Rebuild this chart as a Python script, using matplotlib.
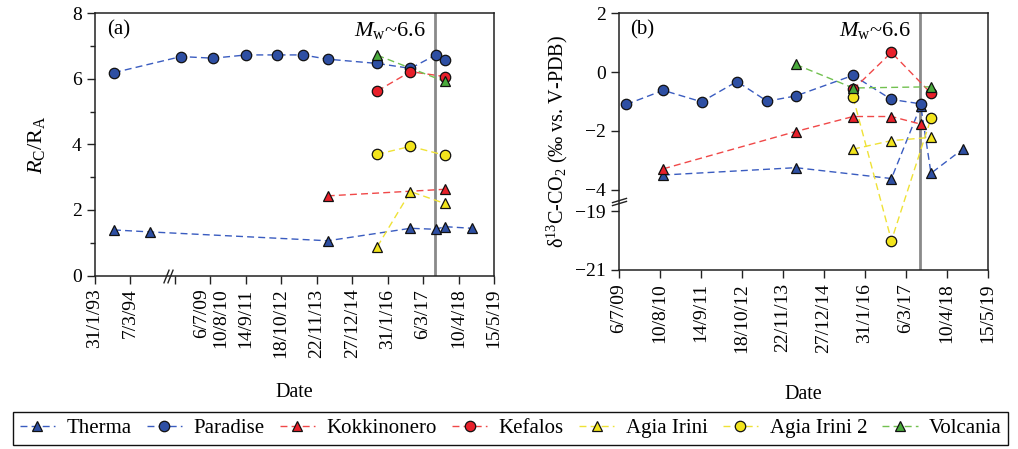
import numpy as np
import pandas as pd
import matplotlib
matplotlib.use('Agg')
import matplotlib.pyplot as plt
import matplotlib.dates as mdates
from matplotlib.ticker import FixedLocator, MultipleLocator
from matplotlib.transforms import ScaledTranslation
from matplotlib.lines import Line2D

plt.rcParams['font.family'] = ['Liberation Serif', 'DejaVu Serif']
plt.rcParams['mathtext.fontset'] = 'custom'
plt.rcParams['mathtext.rm'] = 'Liberation Serif'
plt.rcParams['mathtext.it'] = 'Liberation Serif:italic'

# ---- panel (a): Rc/Ra ----
therma_a_t = ['1993-09-02', '1994-10-12', '2014-03-27', '2016-10-15', '2017-07-28', '2017-11-05', '2018-09-10']
therma_a = [1.39, 1.33, 1.06, 1.44, 1.41, 1.49, 1.44]
paradise_a_t = ['1993-09-02', '2009-09-15', '2010-09-10', '2011-09-20', '2012-08-30', '2013-06-20',
                '2014-03-27', '2015-10-07', '2016-10-15', '2017-07-28', '2017-11-05']
paradise_a = [6.19, 6.68, 6.63, 6.73, 6.73, 6.73, 6.60, 6.47, 6.32, 6.73, 6.56]
kokkin_a_t = ['2014-03-27', '2017-11-05']
kokkin_a = [2.43, 2.63]
kefalos_a_t = ['2015-10-07', '2016-10-15', '2017-11-05']
kefalos_a = [5.63, 6.22, 6.07]
agia_a_t = ['2015-10-07', '2016-10-15', '2017-11-05']
agia_a = [0.88, 2.56, 2.20]
agia2_a_t = ['2015-10-07', '2016-10-15', '2017-11-05']
agia2_a = [3.70, 3.94, 3.67]
volc_a_t = ['2015-10-07', '2017-11-05']
volc_a = [6.72, 5.92]

# ---- panel (b): d13C-CO2 ----
therma_b_t = ['2010-09-10', '2014-03-27', '2016-10-15', '2017-07-28', '2017-11-05', '2018-09-10']
therma_b = [-3.50, -3.25, -3.62, -1.14, -3.44, -2.62]
paradise_b_t = ['2009-09-15', '2010-09-10', '2011-09-20', '2012-08-30', '2013-06-20',
                '2014-03-27', '2015-10-07', '2016-10-15', '2017-07-28']
paradise_b = [-1.10, -0.62, -1.01, -0.32, -0.99, -0.81, -0.11, -0.93, -1.08]
kokkin_b_t = ['2010-09-10', '2014-03-27', '2015-10-07', '2016-10-15', '2017-07-28']
kokkin_b = [-3.29, -2.02, -1.51, -1.51, -1.77]
kefalos_b_t = ['2015-10-07', '2016-10-15', '2017-11-05']
kefalos_b = [-0.59, 0.67, -0.72]
agia_b_t = ['2015-10-07', '2016-10-15', '2017-11-05']
agia_b = [-2.62, -2.33, -2.22]
agia2_b_t = ['2015-10-07', '2016-10-15', '2017-11-05']
agia2_b = [-0.86, -20.0, -1.57]
volc_b_t = ['2014-03-27', '2015-10-07', '2017-11-05']
volc_b = [0.26, -0.54, -0.50]

quake_date = '2017-07-21'

ticks_a = ['1993-01-31', '1994-03-07', '2009-07-06', '2010-08-10', '2011-09-14', '2012-10-18',
           '2013-11-22', '2014-12-27', '2016-01-31', '2017-03-06', '2018-04-10', '2019-05-15']
ticklabels_a = ['31/1/93', '7/3/94', '6/7/09', '10/8/10', '14/9/11', '18/10/12',
                '22/11/13', '27/12/14', '31/1/16', '6/3/17', '10/4/18', '15/5/19']
ticks_b = ticks_a[2:]
ticklabels_b = ticklabels_a[2:]

names = ['Therma', 'Paradise', 'Kokkinonero', 'Kefalos', 'Agia Irini', 'Agia Irini 2', 'Volcania']
markers = ['^', 'o', '^', 'o', '^', 'o', '^']
faces = ['#2e4fa3', '#2e4fa3', '#e8202a', '#e8202a', '#f2e41c', '#f2e41c', '#4aaa3c']
lines = ['#3a5cc0', '#3a5cc0', '#f04848', '#f04848', '#efe236', '#efe236', '#72c150']


def dnum(d):
    return mdates.date2num(pd.to_datetime(d))


# broken x axis for (a)
B1 = dnum('1995-04-15')
B2 = dnum('2009-06-25')
GAP = 85.0


def fwd_a(x):
    x = np.asarray(x, float)
    return np.where(x <= B1, x, np.where(x >= B2, x - (B2 - B1) + GAP,
                                         B1 + (x - B1) * GAP / (B2 - B1)))


def inv_a(u):
    u = np.asarray(u, float)
    return np.where(u <= B1, u, np.where(u >= B1 + GAP, u + (B2 - B1) - GAP,
                                         B1 + (u - B1) * (B2 - B1) / GAP))


# broken y axis for (b)
U, L, OFF = -4.35, -18.75, 14.27


def fwd_b(y):
    y = np.asarray(y, float)
    return np.where(y >= U, y, np.where(y <= L, y + OFF,
                                        L + OFF + (y - L) * (U - L - OFF) / (U - L)))


def inv_b(v):
    v = np.asarray(v, float)
    return np.where(v >= U, v, np.where(v <= L + OFF, v - OFF,
                                        L + (v - L - OFF) * (U - L) / (U - L - OFF)))


fig = plt.figure(figsize=(10.18, 4.49), dpi=100)
ax1 = fig.add_axes([95 / 1018, 1 - 275.5 / 449, 399 / 1018, 262.2 / 449])
ax2 = fig.add_axes([619 / 1018, 1 - 270 / 449, 369 / 1018, 256.7 / 449])

data_a = [(therma_a_t, therma_a), (paradise_a_t, paradise_a), (kokkin_a_t, kokkin_a),
          (kefalos_a_t, kefalos_a), (agia_a_t, agia_a), (agia2_a_t, agia2_a), (volc_a_t, volc_a)]
data_b = [(therma_b_t, therma_b), (paradise_b_t, paradise_b), (kokkin_b_t, kokkin_b),
          (kefalos_b_t, kefalos_b), (agia_b_t, agia_b), (agia2_b_t, agia2_b), (volc_b_t, volc_b)]

dash = (0, (5, 3))
for ax, data, lpad in ((ax1, data_a, 18), (ax2, data_b, 23)):
    for (t, v), m, fc, lc in zip(data, markers, faces, lines):
        ms = 7.5 if m == 'o' else 6.5
        ax.plot(dnum(t), v, ls='none', marker=m, ms=ms, mfc=fc, mec='#111111', mew=0.9, zorder=3)
        ax.plot(dnum(t), v, ls=dash, color=lc, lw=1.0, zorder=2)
    ax.axvline(dnum(quake_date), color='#8a8a8a', lw=2, zorder=1)
    for s in ax.spines.values():
        s.set_linewidth(1.1)
        s.set_color('#222222')
    ax.tick_params(direction='out', length=6, width=1.0, labelsize=14, color='#222222')
    ax.tick_params(which='minor', direction='out', length=3.5, width=1.0, color='#222222')
    ax.annotate(r'$M_{\mathrm{w}}$~6.6', xy=(dnum(quake_date), 1), xycoords=ax.get_xaxis_transform(),
                xytext=(-7, -16), textcoords='offset points', ha='right', va='baseline', fontsize=16)
    ax.set_xlabel('Date', fontsize=14.5, labelpad=lpad)

# (a)
ax1.set_xscale('function', functions=(fwd_a, inv_a))
ax1.set_xlim(dnum(ticks_a[0]), dnum(ticks_a[-1]))
ax1.set_ylim(0, 8)
ax1.yaxis.set_major_locator(FixedLocator([0, 2, 4, 6, 8]))
ax1.yaxis.set_minor_locator(MultipleLocator(1))
ax1.xaxis.set_major_locator(FixedLocator(dnum(ticks_a)))
ax1.xaxis.set_minor_locator(FixedLocator([]))
ax1.set_xticklabels(ticklabels_a, rotation=90)
for lab, dx in ((ticklabels_a.index('6/7/09'), 27), (ticklabels_a.index('10/8/10'), 10)):
    tl = ax1.get_xticklabels()[lab]
    tl.set_transform(tl.get_transform() + ScaledTranslation(dx / 100, 0, fig.dpi_scale_trans))
ax1.set_ylabel(r'$R_{\mathrm{C}}/\mathrm{R}_{\mathrm{A}}$', fontsize=16, labelpad=18)
ax1.text(0.03, 0.935, '(a)', transform=ax1.transAxes, fontsize=15, va='center')
x0 = dnum(ticks_a[0])
brk = inv_a([x0 + 806, x0 + 851])
ax1.plot(brk, [0, 0], transform=ax1.get_xaxis_transform(), ls='none', marker=[(-0.4, -1), (0.4, 1)],
         ms=10, mew=1.0, color='#222222', clip_on=False, zorder=5)

# (b)
ax2.set_yscale('function', functions=(fwd_b, inv_b))
ax2.set_xlim(dnum(ticks_b[0]), dnum(ticks_b[-1]))
ax2.set_ylim(-21, 2)
ax2.yaxis.set_major_locator(FixedLocator([2, 0, -2, -4, -19, -21]))
ax2.yaxis.set_minor_locator(FixedLocator([]))
ax2.xaxis.set_major_locator(FixedLocator(dnum(ticks_b)))
ax2.xaxis.set_minor_locator(FixedLocator([]))
ax2.set_xticklabels(ticklabels_b, rotation=90)
ax2.set_yticklabels(['2', '0', '\u22122', '\u22124', '\u221219', '\u221221'])
ax2.set_ylabel('\u03b4$^{13}$C-CO$_2$ (\u2030 vs. V-PDB)', fontsize=14.5, labelpad=4)
ax2.text(0.03, 0.935, '(b)', transform=ax2.transAxes, fontsize=15, va='center')
ybrk = inv_b([-4.34, -4.45])
ax2.plot([0, 0], ybrk, transform=ax2.get_yaxis_transform(), ls='none', marker=[(-1, -0.3), (1, 0.3)],
         ms=11, mew=1.0, color='#222222', clip_on=False, zorder=5)

handles = [Line2D([], [], ls=dash, color=lc, lw=1.0, marker=m, ms=(7.5 if m == 'o' else 6.5),
                  mfc=fc, mec='#111111', mew=0.9)
           for m, fc, lc in zip(markers, faces, lines)]
leg = fig.legend(handles, names, loc='center', bbox_to_anchor=(0.5017, 1 - 428.5 / 449), ncol=7,
                 fontsize=15, frameon=True, fancybox=False, edgecolor='#111111', framealpha=1,
                 handlelength=1.7, handletextpad=0.55, columnspacing=0.72, borderpad=0.3,
                 borderaxespad=0)
leg.get_frame().set_linewidth(1.0)

fig.savefig('out.png', dpi=100)
